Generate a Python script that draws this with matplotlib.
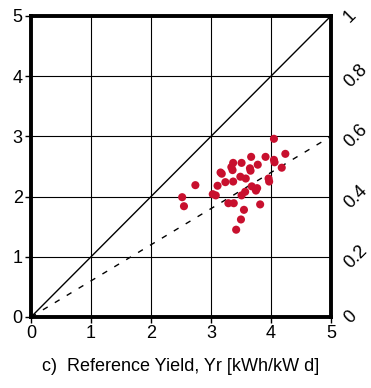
import matplotlib
matplotlib.use("Agg")
import matplotlib.pyplot as plt

plt.rcParams['font.family'] = ['Liberation Sans', 'DejaVu Sans']

# Reference yield (x) and final yield (y) per system, kWh/kW d
yr = [4.05, 4.24, 3.67, 3.91, 4.05, 4.06, 3.37, 3.51, 3.78, 3.34, 3.65, 4.18,
      3.36, 3.66, 3.16, 3.18, 3.49, 3.58, 3.96, 3.97, 3.24, 3.37, 2.74, 3.11,
      3.68, 3.77, 3.75, 3.57, 3.51, 3.03, 3.08, 2.52, 2.55, 3.29, 3.38, 3.82,
      3.55, 3.50, 3.42]
yf = [2.96, 2.71, 2.66, 2.66, 2.61, 2.57, 2.56, 2.56, 2.53, 2.49, 2.47, 2.48,
      2.44, 2.43, 2.40, 2.38, 2.33, 2.30, 2.30, 2.25, 2.24, 2.25, 2.19, 2.18,
      2.17, 2.14, 2.10, 2.08, 2.02, 2.04, 2.02, 1.99, 1.84, 1.89, 1.89, 1.87,
      1.78, 1.62, 1.45]

ticks = [0, 1, 2, 3, 4, 5]
pr_ticks = [0, 0.2, 0.4, 0.6, 0.8, 1]
pr_labels = ["0", "0.2", "0.4", "0.6", "0.8", "1"]
pr_ref = 0.6

fig = plt.figure(figsize=(3.71, 3.88), dpi=100)
ax = fig.add_axes([0.0836, 0.183, 0.8084, 0.7758])

ax.set_xlim(0, 5)
ax.set_ylim(0, 5)
ax.set_xticks(ticks)
ax.set_yticks(ticks)
ax.grid(True, color='black', linewidth=0.8)
ax.set_axisbelow(True)

ax.plot([0, 5], [0, 5], color='black', linewidth=1.0, zorder=2)
ax.plot([0, 5], [0, 5 * pr_ref], color='black', linewidth=1.0,
        linestyle=(0, (4, 6)), zorder=2)

ax.scatter(yr, yf, s=34, color='#c8102e', edgecolors='none', zorder=3)

for sp in ax.spines.values():
    sp.set_linewidth(2.8)
    sp.set_zorder(4)

ax.tick_params(axis='both', labelsize=13, length=4, width=1, direction='out',
               pad=2)

ax2 = ax.twinx()
ax2.set_ylim(0, 1)
ax2.set_yticks(pr_ticks)
ax2.set_yticklabels(pr_labels, rotation=45, va='center', ha='left')
ax2.tick_params(axis='y', length=0, labelsize=13, pad=7)
for sp in ax2.spines.values():
    sp.set_visible(False)

ax.set_xlabel("c)  Reference Yield, Yr [kWh/kW d]", fontsize=13, labelpad=11)

fig.savefig("out.png", dpi=100)
